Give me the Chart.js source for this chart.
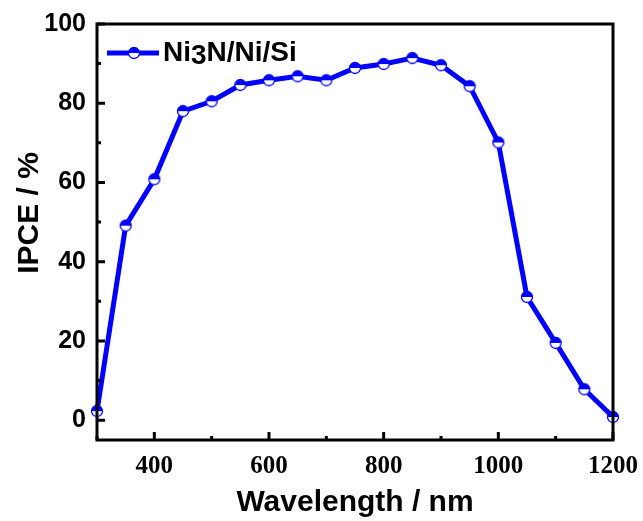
<!DOCTYPE html>
<html>
<head>
<meta charset="utf-8">
<script src="https://cdn.jsdelivr.net/npm/chart.js@4.4.0/dist/chart.umd.min.js"></script>
<style>
    html, body { margin: 0; padding: 0; background: #fff; }
    #wrap { width: 643px; height: 521px; }
</style>
</head>
<body>
<div id="wrap"><canvas id="ipce"></canvas></div>
<script>
    // values
    const wavelengths = [300, 350, 400, 450, 500, 550, 600, 650, 700, 750, 800, 850, 900, 950, 1000, 1050, 1100, 1150, 1200];
    const ipce = [2.3, 49.1, 60.8, 78.0, 80.5, 84.6, 85.8, 86.8, 85.8, 88.9, 89.9, 91.4, 89.6, 84.3, 70.1, 31.1, 19.5, 7.8, 0.8];
    const seriesName = ['Ni', '3', 'N/Ni/Si'];
    const xMajor = [400, 600, 800, 1000, 1200];
    const xMinor = [300, 500, 700, 900, 1100];
    const yMajor = [0, 20, 40, 60, 80, 100];
    const yMinor = [10, 30, 50, 70, 90];
    const yTitle = 'IPCE / %';

    const blue = '#0000ff';
    const sans = '"Liberation Sans", Arial, sans-serif';
    const serif = '"Liberation Serif", "Times New Roman", serif';

    // half filled circle marker (top blue, bottom white)
    function halfDot(r) {
        const c = document.createElement('canvas');
        const s = Math.ceil(r * 2 + 3);
        c.width = s; c.height = s;
        const g = c.getContext('2d');
        const m = s / 2;
        g.beginPath(); g.arc(m, m, r, 0, Math.PI * 2); g.fillStyle = '#fff'; g.fill();
        g.beginPath(); g.arc(m, m, r, Math.PI, 0); g.closePath(); g.fillStyle = blue; g.fill();
        g.beginPath(); g.arc(m, m, r, 0, Math.PI * 2); g.lineWidth = 1.3; g.strokeStyle = blue; g.stroke();
        return c;
    }
    const dot = halfDot(5.5);

    const frame = {
        id: 'frame',
        afterDraw(chart) {
            const {ctx, chartArea: a, scales: {x, y}} = chart;
            ctx.save();
            ctx.strokeStyle = '#000';
            ctx.lineWidth = 3;
            ctx.strokeRect(a.left, a.top, a.right - a.left, a.bottom - a.top);
            ctx.beginPath();
            xMajor.forEach(v => { const px = x.getPixelForValue(v); ctx.moveTo(px, a.bottom); ctx.lineTo(px, a.bottom - 8); });
            xMinor.forEach(v => { const px = x.getPixelForValue(v); ctx.moveTo(px, a.bottom); ctx.lineTo(px, a.bottom - 4); });
            yMajor.forEach(v => { const py = y.getPixelForValue(v); ctx.moveTo(a.left, py); ctx.lineTo(a.left + 8, py); });
            yMinor.forEach(v => { const py = y.getPixelForValue(v); ctx.moveTo(a.left, py); ctx.lineTo(a.left + 4, py); });
            ctx.stroke();

            // y title, centred a bit above the plot middle like the original
            ctx.save();
            ctx.translate(38, 213);
            ctx.rotate(-Math.PI / 2);
            ctx.fillStyle = '#000';
            ctx.font = 'bold 30px ' + sans;
            ctx.textAlign = 'center';
            ctx.textBaseline = 'alphabetic';
            ctx.fillText(yTitle, 0, 0);
            ctx.restore();

            // legend inside the plot
            const ly = a.top + 29;
            ctx.strokeStyle = blue;
            ctx.lineWidth = 5;
            ctx.beginPath(); ctx.moveTo(a.left + 10, ly); ctx.lineTo(a.left + 62, ly); ctx.stroke();
            ctx.drawImage(dot, a.left + 37 - dot.width / 2, ly - dot.height / 2);
            ctx.fillStyle = '#000';
            ctx.font = 'bold 28px ' + sans;
            ctx.textBaseline = 'middle';
            let tx = a.left + 66;
            seriesName.forEach((part, i) => {
                ctx.fillText(part, tx, ly + (i === 1 ? 3 : 0));
                tx += ctx.measureText(part).width;
            });
            ctx.restore();
        }
    };

    new Chart(document.getElementById('ipce'), {
        type: 'line',
        data: {
            labels: wavelengths,
            datasets: [{
                label: seriesName.join(''),
                data: wavelengths.map((w, i) => ({x: w, y: ipce[i]})),
                borderColor: blue,
                backgroundColor: blue,
                borderWidth: 5,
                pointStyle: dot,
                pointRadius: 5.5,
                tension: 0,
                clip: false
            }]
        },
        options: {
            responsive: true,
            maintainAspectRatio: false,
            animation: false,
            events: [],
            layout: {padding: {top: 24, right: 30, left: 0, bottom: 0}},
            plugins: {legend: {display: false}, tooltip: {enabled: false}},
            scales: {
                x: {
                    type: 'linear',
                    min: 300, max: 1200,
                    grid: {display: false, drawTicks: false},
                    border: {display: false},
                    afterBuildTicks: s => { s.ticks = xMajor.map(v => ({value: v})); },
                    afterFit: s => { s.height = 81; s.paddingLeft = 0; s.paddingRight = 0; },
                    ticks: {color: '#000', padding: 12, callback: v => String(v),
                        font: {family: serif, size: 25, weight: 'bold'}},
                    title: {display: true, text: 'Wavelength / nm', color: '#000', padding: {top: 0, bottom: 0},
                        font: {family: sans, size: 30, weight: 'bold'}}
                },
                y: {
                    min: -5, max: 100,
                    grid: {display: false, drawTicks: false},
                    border: {display: false},
                    afterBuildTicks: s => { s.ticks = yMajor.map(v => ({value: v})); },
                    afterFit: s => { s.width = 97; s.paddingTop = 0; s.paddingBottom = 0; },
                    ticks: {color: '#000', padding: 11, font: {family: sans, size: 25, weight: 'bold'}}
                }
            }
        },
        plugins: [frame]
    });
</script>
</body>
</html>
